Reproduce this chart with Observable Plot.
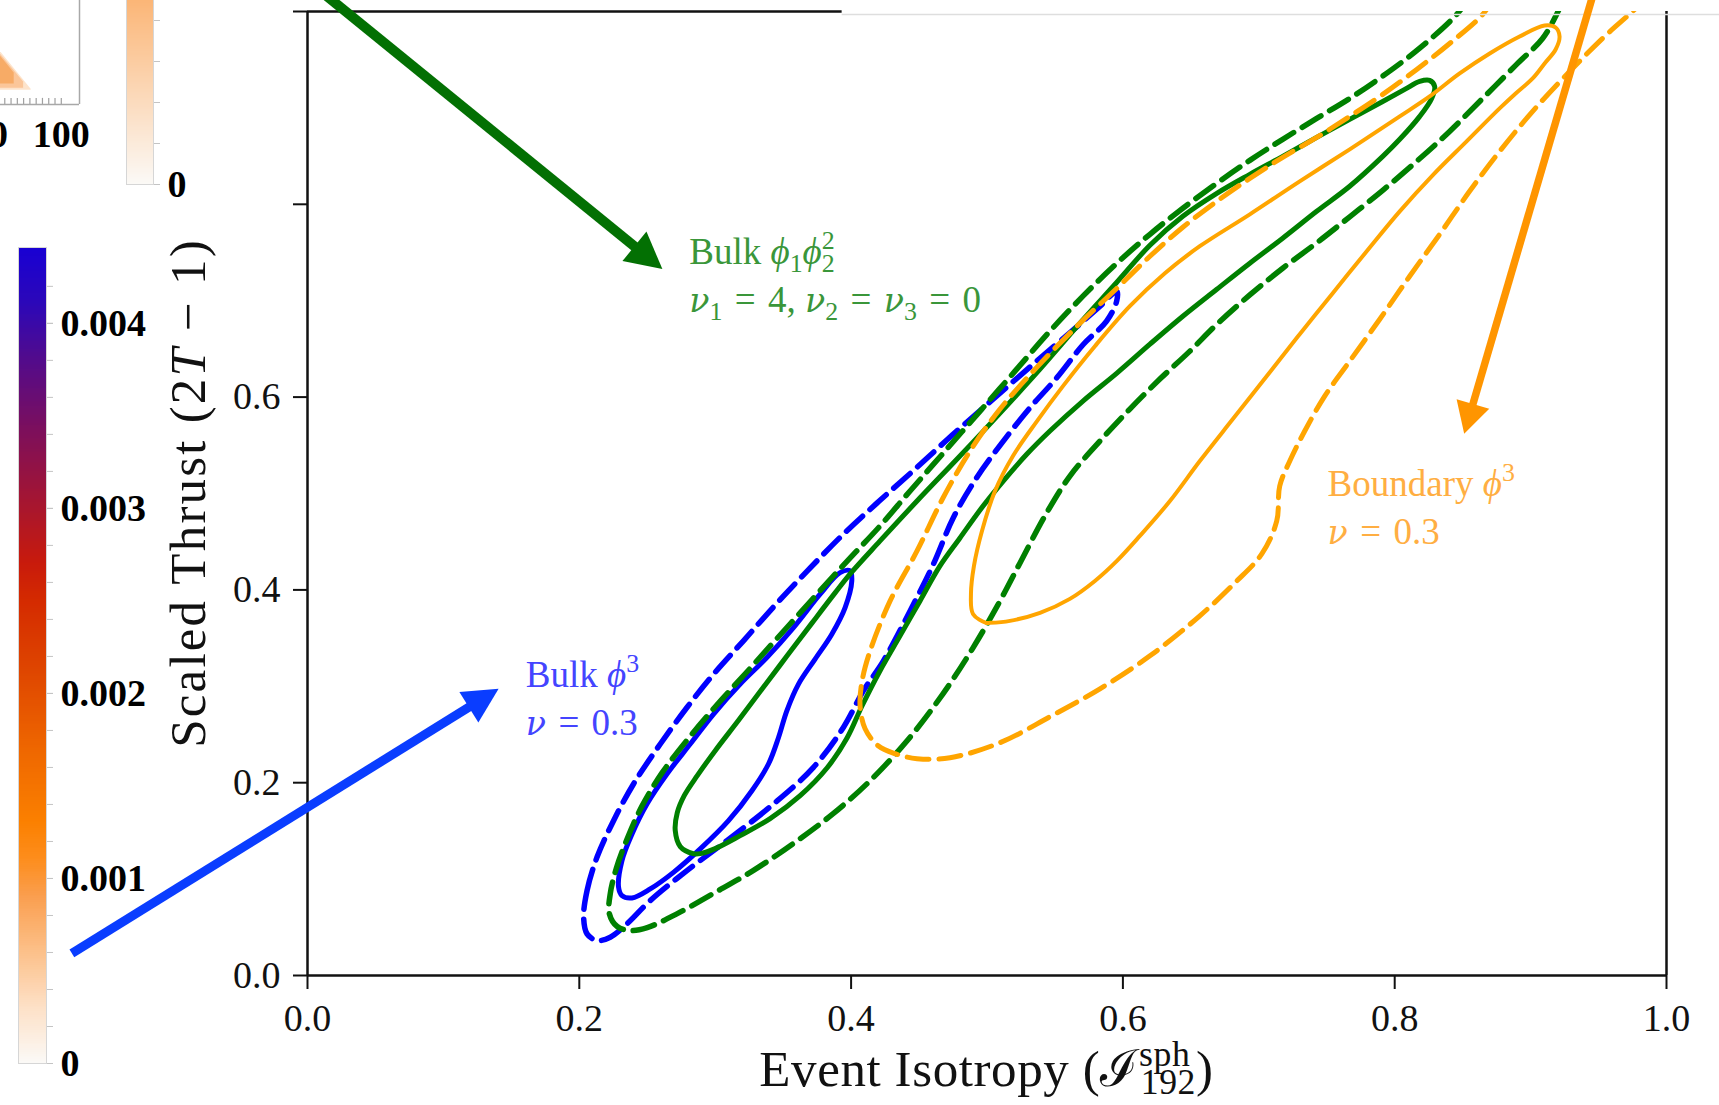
<!DOCTYPE html>
<html>
<head>
<meta charset="utf-8">
<script src="https://cdn.jsdelivr.net/npm/d3@7"></script>
<script src="https://cdn.jsdelivr.net/npm/@observablehq/plot@0.6"></script>
<style>
  html, body { margin: 0; padding: 0; background: #fff; }
  #page { position: relative; width: 1719px; height: 1105px; overflow: hidden; background: #fff; font-family: "Liberation Serif", serif; }
  #page > div { position: absolute; }
</style>
</head>
<body>
<div id="page">
  <div id="inset" style="left:-12px; top:-110px"></div>
  <div id="insetbar" style="left:100px; top:-20px"></div>
  <div id="cbar" style="left:0; top:0"></div>
  <div id="main" style="left:0; top:0"></div>
</div>
<script>
// ---------- axes ----------
const xTicks = [0, 0.2, 0.4, 0.6, 0.8, 1.0];
const yTicks = [0, 0.2, 0.4, 0.6, 0.8, 1.0];
const yTickLabelled = [0, 0.2, 0.4, 0.6];

// ---------- contours: [event isotropy, scaled thrust] ----------
// Bulk phi^3, nu = 0.3 (inner / outer level)
const bulkPhi3Inner = [[0.2289,0.0915],[0.2314,0.1192],[0.2388,0.1468],[0.2498,0.1779],[0.2645,0.2090],[0.2816,0.2401],[0.2988,0.2712],[0.3184,0.3023],[0.3380,0.3298],[0.3576,0.3609],[0.3772,0.3955],[0.3919,0.4179],[0.3993,0.4197],[0.4005,0.4093],[0.3956,0.3817],[0.3858,0.3541],[0.3735,0.3282],[0.3613,0.3023],[0.3527,0.2746],[0.3466,0.2469],[0.3392,0.2194],[0.3270,0.1917],[0.3098,0.1606],[0.2890,0.1313],[0.2693,0.1070],[0.2522,0.0898],[0.2388,0.0805],[0.2314,0.0829]];
const bulkPhi3Outer = [[0.2032,0.0604],[0.2057,0.0881],[0.2130,0.1226],[0.2252,0.1606],[0.2399,0.1987],[0.2596,0.2401],[0.2792,0.2780],[0.2988,0.3126],[0.3208,0.3472],[0.3440,0.3840],[0.3680,0.4200],[0.3930,0.4560],[0.4190,0.4900],[0.4460,0.5240],[0.4740,0.5600],[0.5030,0.5960],[0.5330,0.6330],[0.5620,0.6680],[0.5830,0.6940],[0.5954,0.7098],[0.5954,0.6995],[0.5880,0.6788],[0.5708,0.6546],[0.5513,0.6200],[0.5316,0.5889],[0.5120,0.5544],[0.4924,0.5164],[0.4752,0.4749],[0.4605,0.4266],[0.4434,0.3782],[0.4238,0.3264],[0.4090,0.2953],[0.3943,0.2573],[0.3723,0.2159],[0.3429,0.1779],[0.3086,0.1399],[0.2792,0.1088],[0.2522,0.0777],[0.2351,0.0536],[0.2228,0.0397],[0.2130,0.0363],[0.2057,0.0432]];
// Bulk phi1 phi2^2, nu1 = 4, nu2 = nu3 = 0
const bulkPhi1Phi2Inner = [[0.2838,0.1264],[0.2743,0.1337],[0.2706,0.1503],[0.2721,0.1689],[0.2772,0.1865],[0.2868,0.2073],[0.3000,0.2332],[0.3169,0.2642],[0.3346,0.2974],[0.3529,0.3316],[0.3713,0.3658],[0.3882,0.3969],[0.3993,0.4166],[0.4213,0.4508],[0.4485,0.4922],[0.4801,0.5389],[0.5096,0.5834],[0.5390,0.6290],[0.5684,0.6767],[0.5949,0.7181],[0.6199,0.7575],[0.6441,0.7876],[0.6691,0.8114],[0.6934,0.8311],[0.7176,0.8497],[0.7426,0.8694],[0.7669,0.8881],[0.7912,0.9067],[0.8074,0.9192],[0.8184,0.9275],[0.8257,0.9285],[0.8294,0.9223],[0.8272,0.9098],[0.8184,0.8912],[0.8037,0.8674],[0.7912,0.8497],[0.7669,0.8187],[0.7426,0.7927],[0.7176,0.7648],[0.6934,0.7389],[0.6691,0.7119],[0.6441,0.6839],[0.6199,0.6549],[0.5956,0.6249],[0.5706,0.5959],[0.5463,0.5648],[0.5294,0.5409],[0.5132,0.5150],[0.4971,0.4870],[0.4801,0.4539],[0.4654,0.4249],[0.4507,0.3886],[0.4360,0.3523],[0.4213,0.3161],[0.4081,0.2798],[0.3971,0.2466],[0.3824,0.2155],[0.3625,0.1865],[0.3404,0.1627],[0.3184,0.1451],[0.3000,0.1316],[0.2890,0.1264]];
const bulkPhi1Phi2Outer = [[0.8551,1.0155],[0.8456,0.9969],[0.8184,0.9620],[0.7912,0.9330],[0.7669,0.9098],[0.7426,0.8891],[0.7176,0.8674],[0.6934,0.8456],[0.6691,0.8218],[0.6441,0.7959],[0.6199,0.7689],[0.5956,0.7389],[0.5706,0.7047],[0.5463,0.6684],[0.5206,0.6269],[0.4949,0.5855],[0.4691,0.5440],[0.4434,0.5026],[0.4213,0.4663],[0.4007,0.4352],[0.3824,0.4073],[0.3625,0.3762],[0.3426,0.3451],[0.3221,0.3130],[0.3007,0.2798],[0.2801,0.2456],[0.2610,0.2104],[0.2463,0.1762],[0.2353,0.1420],[0.2272,0.1109],[0.2228,0.0850],[0.2221,0.0642],[0.2279,0.0508],[0.2375,0.0466],[0.2500,0.0497],[0.2721,0.0642],[0.2985,0.0850],[0.3279,0.1088],[0.3574,0.1368],[0.3868,0.1679],[0.4140,0.2021],[0.4412,0.2435],[0.4676,0.2922],[0.4897,0.3399],[0.5096,0.3886],[0.5243,0.4280],[0.5426,0.4767],[0.5610,0.5181],[0.5831,0.5544],[0.6051,0.5876],[0.6272,0.6187],[0.6493,0.6477],[0.6691,0.6755],[0.6934,0.7060],[0.7176,0.7337],[0.7426,0.7600],[0.7669,0.7870],[0.7912,0.8145],[0.8162,0.8446],[0.8404,0.8756],[0.8647,0.9098],[0.8897,0.9451],[0.9088,0.9720],[0.9191,0.9969],[0.9250,1.0155]];
// Boundary phi^3, nu = 0.3
const boundaryPhi3Inner = [[0.4993,0.3658],[0.4897,0.3751],[0.4882,0.3959],[0.4904,0.4249],[0.4963,0.4611],[0.5059,0.5026],[0.5191,0.5389],[0.5368,0.5751],[0.5559,0.6114],[0.5794,0.6528],[0.6051,0.6943],[0.6309,0.7285],[0.6566,0.7565],[0.6934,0.7896],[0.7301,0.8238],[0.7669,0.8570],[0.8037,0.8912],[0.8257,0.9119],[0.8478,0.9358],[0.8699,0.9565],[0.8919,0.9741],[0.9103,0.9855],[0.9184,0.9834],[0.9213,0.9741],[0.9184,0.9606],[0.9103,0.9461],[0.9015,0.9306],[0.8882,0.9140],[0.8772,0.8995],[0.8529,0.8653],[0.8279,0.8301],[0.8037,0.7927],[0.7794,0.7513],[0.7544,0.7078],[0.7301,0.6653],[0.7059,0.6218],[0.6809,0.5772],[0.6566,0.5337],[0.6346,0.4922],[0.6125,0.4560],[0.5956,0.4301],[0.5794,0.4093],[0.5610,0.3907],[0.5390,0.3762],[0.5169,0.3679],[0.5022,0.3658]];
const boundaryPhi3Outer = [[0.8735,1.0155],[0.8647,0.9969],[0.8404,0.9668],[0.8162,0.9399],[0.7912,0.9140],[0.7669,0.8912],[0.7426,0.8694],[0.7176,0.8487],[0.6934,0.8269],[0.6691,0.8031],[0.6441,0.7762],[0.6199,0.7461],[0.5956,0.7130],[0.5662,0.6736],[0.5368,0.6311],[0.5096,0.5876],[0.4875,0.5440],[0.4676,0.4953],[0.4485,0.4404],[0.4287,0.3886],[0.4140,0.3368],[0.4081,0.3057],[0.4066,0.2798],[0.4103,0.2560],[0.4199,0.2383],[0.4324,0.2301],[0.4485,0.2249],[0.4728,0.2259],[0.5096,0.2415],[0.5463,0.2684],[0.5831,0.2974],[0.6199,0.3316],[0.6566,0.3731],[0.6824,0.4073],[0.7022,0.4373],[0.7132,0.4715],[0.7154,0.5078],[0.7228,0.5337],[0.7338,0.5648],[0.7485,0.6010],[0.7669,0.6373],[0.7890,0.6808],[0.8110,0.7254],[0.8331,0.7689],[0.8551,0.8135],[0.8772,0.8549],[0.9015,0.8964],[0.9287,0.9378],[0.9544,0.9741],[0.9765,1.0021],[0.9875,1.0187]];

// ---------- annotations (data units) ----------
const arrowFrom = [[0.0100, 1.0207], [-0.1730, 0.0225], [0.9471, 1.0207]];
const arrowTo   = [[0.2615, 0.7323], [0.1410, 0.2969], [0.8515, 0.5614]];
const labelAt   = [[0.2813, 0.7378], [0.1610, 0.2988], [0.7510, 0.4974]];
const EQ = "\u2004=\u2004";
const modelLabels = [
  [[["Bulk ", ""], ["ϕ", "it"], ["1", "sub"], ["ϕ", "it"], ["2", "sub"], ["2", "supk"]],
   [["ν", "gr"], ["1", "sub"], [EQ + "4, ", ""], ["ν", "gr"], ["2", "sub"], [EQ, ""], ["ν", "gr"], ["3", "sub"], [EQ + "0", ""]]],
  [[["Bulk ", ""], ["ϕ", "it"], ["3", "sup"]],
   [["ν", "gr"], [EQ + "0.3", ""]]],
  [[["Boundary ", ""], ["ϕ", "it"], ["3", "sup"]],
   [["ν", "gr"], [EQ + "0.3", ""]]]
];
const xLabel = [["Event Isotropy (", ""], ["ℐ", ""], ["sph", "sup"], ["192", "subk"], [")", ""]];
const yLabel = [["Scaled Thrust (2", ""], ["T", "it"], [" − 1)", ""]];

// ---------- colour bars ----------
const cbarTicks = [0, 0.001, 0.002, 0.003, 0.004];
const cbarMinorTicks = d3.range(0, 0.0044, 0.0002);
const cbarStops  = [0, 0.0003, 0.0006, 0.0009, 0.0011, 0.0013, 0.0017, 0.0021, 0.0025, 0.0027, 0.0030, 0.0034, 0.0038, 0.0041, 0.00441];
const cbarColors = ["#fbf9f6", "#fde0c6", "#fcc089", "#fa9e4e", "#fd8d1c", "#fb8000", "#ee6600", "#df4700", "#d42a00", "#c81a0c", "#a8162e", "#7e0f5a", "#520b8c", "#2c08b8", "#1800d4"];
const insetBarTicks = [0, 1, 2, 3, 4];
const insetTicks = d3.range(0, 101, 10);
const insetBlob = [
  [{x: 0, bottom: 0.07, top: 0.27}, {x: 52, bottom: 0.07, top: 0.075}],
  [{x: 0, bottom: 0.08, top: 0.258}, {x: 40, bottom: 0.08, top: 0.11}],
  [{x: 0, bottom: 0.10, top: 0.248}, {x: 25, bottom: 0.10, top: 0.155}]
];
const insetBlobFill = ["#fde4cc", "#fbc699", "#f7ab66"];

// ---------- styles ----------
const BLUE = "#0000ff", GREEN = "#008000", ORANGE = "#ffa500";
const DASH = "22,10";
const arrowStyle = [
  {color: "#037003", width: 10, head: 36, half: 19},
  {color: "#0a3dff", width: 9, head: 35, half: 18},
  {color: "#ff9500", width: 7.5, head: 31, half: 17}
];
const labelColor = ["#3a963a", "#4444ff", "#ffae42"];
const serif = "'Liberation Serif', 'Times New Roman', serif";

function approxWidth(s) {
  let w = 0;
  for (const c of s) w += c === "s" ? 0.39 : c === "." ? 0.25 : 0.5;
  return w;
}

// text with italic runs, Greek letters, subscripts and superscripts
function richText(parent, parts, {x, y, size, fill, anchor = "start", rotate = 0, spacing = 0, sub = 0.22}) {
  const text = parent.append("text")
    .attr("x", x).attr("y", y)
    .attr("fill", fill)
    .attr("font-size", size)
    .attr("text-anchor", anchor);
  if (spacing) text.attr("letter-spacing", spacing);
  if (rotate) text.attr("transform", `rotate(${rotate} ${x} ${y})`);
  let shift = 0, lastWidth = 0;
  for (const [s, kind] of parts) {
    const ts = text.append("tspan").text(s);
    const small = kind.startsWith("sub") || kind.startsWith("sup");
    const target = kind.startsWith("sub") ? sub * size : kind.startsWith("sup") ? -0.4 * size : 0;
    if (target !== shift) ts.attr("dy", target - shift);
    shift = target;
    if (small) ts.attr("font-size", 0.7 * size);
    if (kind === "it") ts.attr("font-style", "italic");
    if (kind === "gr") ts.attr("font-style", "italic").attr("font-family", "'DejaVu Serif', serif").attr("font-size", 0.9 * size);
    if (kind.endsWith("k")) ts.attr("dx", -lastWidth);
    lastWidth = approxWidth(s) * (small ? 0.7 : 1) * size;
  }
  return text;
}

// arrows, model labels and axis titles, placed through the chart scales
function annotations(index, scales, values, dimensions) {
  const g = d3.create("svg:g");
  arrowFrom.forEach(([ax, ay], i) => {
    const [bx, by] = arrowTo[i];
    const st = arrowStyle[i];
    const x1 = scales.x(ax), y1 = scales.y(ay), x2 = scales.x(bx), y2 = scales.y(by);
    const len = Math.hypot(x2 - x1, y2 - y1), ux = (x2 - x1) / len, uy = (y2 - y1) / len;
    const hx = x2 - ux * st.head, hy = y2 - uy * st.head;
    g.append("line")
      .attr("x1", x1).attr("y1", y1).attr("x2", hx + ux * 2).attr("y2", hy + uy * 2)
      .attr("stroke", st.color).attr("stroke-width", st.width);
    g.append("path")
      .attr("d", `M${x2},${y2}L${hx - uy * st.half},${hy + ux * st.half}L${hx + uy * st.half},${hy - ux * st.half}Z`)
      .attr("fill", st.color);
  });
  modelLabels.forEach((lines, i) => {
    const [lx, ly] = labelAt[i];
    lines.forEach((parts, j) => {
      richText(g, parts, {x: scales.x(lx), y: scales.y(ly) + j * 48, size: 37, fill: labelColor[i]});
    });
  });
  richText(g, xLabel, {x: scales.x(0.5), y: dimensions.height - dimensions.marginBottom + 111, size: 51, fill: "#111", anchor: "middle", spacing: 0.6, sub: 0.15});
  richText(g, yLabel, {x: dimensions.marginLeft - 102, y: scales.y(0.5), size: 51, fill: "#111", anchor: "middle", rotate: -90, spacing: 2.2});
  return g.node();
}

const contour = (pts, stroke, dashed, closed, width) => Plot.line(pts, {
  x: d => d[0], y: d => d[1], stroke, strokeWidth: width,
  strokeDasharray: dashed ? DASH : undefined,
  curve: closed ? "catmull-rom-closed" : "catmull-rom",
  clip: true, strokeLinejoin: "round"
});

const mainChart = Plot.plot({
  width: 1719, height: 1105,
  marginLeft: 307, marginRight: 53, marginTop: 11, marginBottom: 130,
  x: {domain: [0, 1]},
  y: {domain: [0, 1]},
  style: {background: "transparent", fontFamily: serif, fontSize: "38px", color: "#111", overflow: "visible"},
  marks: [
    contour(bulkPhi3Outer, BLUE, true, true, 5.5),
    contour(bulkPhi3Inner, BLUE, false, true, 5),
    contour(bulkPhi1Phi2Outer, GREEN, true, false, 5.5),
    contour(bulkPhi1Phi2Inner, GREEN, false, true, 5),
    contour(boundaryPhi3Outer, ORANGE, true, false, 5),
    contour(boundaryPhi3Inner, ORANGE, false, true, 4),
    Plot.axisX({ticks: xTicks, tickSize: 14, tickPadding: 15, tickFormat: d3.format(".1f"), strokeWidth: 2, label: null}),
    Plot.axisY({ticks: yTicks, tickSize: 14, tickPadding: 13, tickFormat: d => yTickLabelled.includes(d) ? d.toFixed(1) : "", strokeWidth: 2, label: null}),
    Plot.ruleX([0], {stroke: "#111", strokeWidth: 2.5}),
    Plot.ruleX([1], {stroke: "#111", strokeWidth: 2.5}),
    Plot.ruleY([0], {stroke: "#111", strokeWidth: 2.5}),
    Plot.ruleY([1], {x1: 0, x2: 0.3934, stroke: "#111", strokeWidth: 2.5}),
    Plot.ruleY([0.9969], {x1: 0.3934, x2: 1.04, stroke: "#dedede", strokeWidth: 1.5}),
    annotations
  ]
});
document.getElementById("main").append(mainChart);

// colour bar of the density scale
const cbarValues = d3.range(0, 0.00441, 0.00001);
const cbar = Plot.plot({
  width: 200, height: 1105,
  marginLeft: 18, marginRight: 154, marginTop: 247, marginBottom: 42,
  x: {domain: [0, 1], axis: null},
  y: {domain: [0, 0.00441]},
  color: {type: "linear", domain: cbarStops, range: cbarColors, interpolate: "rgb"},
  style: {background: "transparent", fontFamily: serif, fontSize: "38px", fontWeight: "bold", color: "#000"},
  marks: [
    Plot.rect(cbarValues, {x1: 0, x2: 1, y1: d => d, y2: d => Math.min(d + 0.0000105, 0.00441), fill: d => d, shapeRendering: "crispEdges"}),
    Plot.frame({stroke: "#d6d6d6", strokeWidth: 1}),
    Plot.axisY({anchor: "right", ticks: cbarMinorTicks, tickSize: 6, tickFormat: () => "", stroke: "#c4c4c4", label: null}),
    Plot.axisY({anchor: "right", ticks: cbarTicks, tickSize: 6, tickPadding: 8, tickFormat: d => d === 0 ? "0" : d.toFixed(3), stroke: "#c4c4c4", label: null})
  ]
});
document.getElementById("cbar").append(cbar);

// neighbouring panel: its colour bar
const insetBarValues = d3.range(0, 4.707, 0.03);
const insetBar = Plot.plot({
  width: 120, height: 240,
  marginLeft: 26, marginRight: 67, marginTop: 11, marginBottom: 36,
  x: {domain: [0, 1], axis: null},
  y: {domain: [0, 4.707]},
  color: {type: "linear", domain: [0, 4.707], range: ["#fbf9f6", "#fbb270"]},
  style: {background: "transparent", fontFamily: serif, fontSize: "38px", fontWeight: "bold", color: "#000"},
  marks: [
    Plot.rect(insetBarValues, {x1: 0, x2: 1, y1: d => d, y2: d => d + 0.032, fill: d => d, shapeRendering: "crispEdges"}),
    Plot.frame({stroke: "#d6d6d6", strokeWidth: 1}),
    Plot.axisY({anchor: "right", ticks: insetBarTicks, tickSize: 6, tickPadding: 8, tickFormat: d => d === 0 ? "0" : "", stroke: "#c4c4c4", label: null})
  ]
});
document.getElementById("insetbar").append(insetBar);

// neighbouring panel: corner of its frame
const inset = Plot.plot({
  width: 130, height: 270,
  marginLeft: 10, marginRight: 39, marginTop: 10, marginBottom: 56,
  x: {domain: [0, 129]},
  y: {domain: [0, 1], axis: null},
  style: {background: "transparent", fontFamily: serif, fontSize: "38px", fontWeight: "bold", color: "#000", overflow: "visible"},
  marks: [
    ...insetBlob.map((shape, i) => Plot.areaY(shape, {x: "x", y1: "bottom", y2: "top", fill: insetBlobFill[i]})),
    Plot.ruleX(insetTicks, {y1: 0, y2: 0.03, stroke: "#a0a0a0", strokeWidth: 1.2}),
    Plot.ruleX([129], {stroke: "#a8a8a8", strokeWidth: 1.5}),
    Plot.ruleY([0], {stroke: "#a8a8a8", strokeWidth: 1.5}),
    Plot.axisX({ticks: [0, 100], tickSize: 0, tickPadding: 16, label: null})
  ]
});
document.getElementById("inset").append(inset);
</script>
</body>
</html>
